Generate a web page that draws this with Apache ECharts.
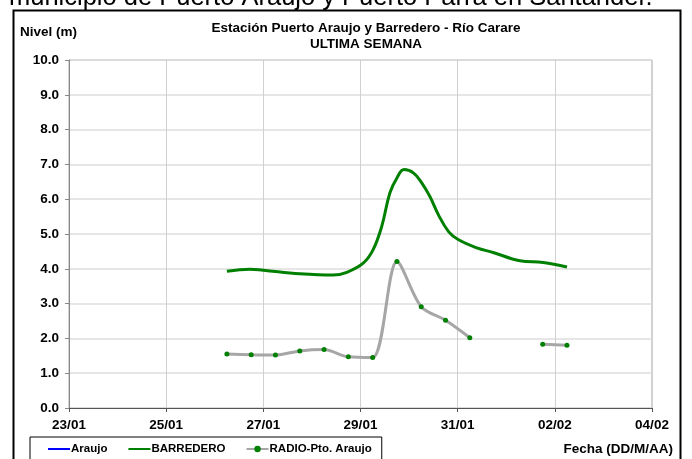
<!DOCTYPE html>
<html><head><meta charset="utf-8">
<script src="https://cdn.jsdelivr.net/npm/echarts@6/dist/echarts.min.js"></script>
<style>html,body{margin:0;padding:0;background:#fff}#c{width:692px;height:459px}</style>
</head><body><div id="c"></div>
<script>
var titleLine1 = 'Estación Puerto Araujo y Barredero - Río Carare';
var titleLine2 = 'ULTIMA SEMANA';
var yAxisName = 'Nivel (m)';
var xAxisName = 'Fecha (DD/M/AA)';
var pageText = 'municipio de Puerto Araujo y Puerto Parra en Santander.';
var seriesNames = ['Araujo', 'BARREDERO', 'RADIO-Pto. Araujo'];
var startDate = '2021-01-23';
var yTicks = [0, 1, 2, 3, 4, 5, 6, 7, 8, 9, 10];

var araujoTimes = [];
var araujoValues = [];

var barrederoTimes = ['01-26 06:00','01-26 17:30','01-27 00:00','01-27 18:00','01-28 10:30','01-28 17:15',
  '01-29 01:30','01-29 06:15','01-29 10:30','01-29 14:30','01-29 18:00','01-29 21:30','01-30 02:15',
  '01-30 06:15','01-30 10:15','01-30 14:30','01-30 19:30','01-31 00:15','01-31 09:30','01-31 17:30',
  '02-01 06:45','02-01 18:15','02-02 06:00'];
var barrederoValues = [3.93,3.99,3.96,3.86,3.82,3.90,4.17,4.55,5.22,6.18,6.61,6.85,6.75,6.47,6.08,5.55,5.07,4.84,4.60,4.47,4.23,4.18,4.05];

var radioTimes = ['01-26 06:00','01-26 18:00','01-27 06:00','01-27 18:00','01-28 06:00','01-28 18:00',
  '01-29 06:00','01-29 18:00','01-30 06:00','01-30 18:00','01-31 06:00','01-31 18:00','02-01 06:00',
  '02-01 18:00','02-02 06:00'];
var radioValues = [1.55,1.53,1.52,1.64,1.68,1.47,1.45,4.21,2.91,2.52,2.02,null,null,1.83,1.80];

var DAY = 86400000;
var base = Date.parse(startDate + 'T00:00:00');
function toDay(s) {
  var p = s.split(' ');
  return (Date.parse(startDate.slice(0, 4) + '-' + p[0] + 'T' + p[1] + ':00') - base) / DAY;
}
function pairs(times, vals) {
  return times.map(function (t, i) { return [toDay(t), vals[i] == null ? '-' : vals[i]]; });
}
function fmtDay(v) {
  var d = new Date(base + v * DAY);
  var dd = ('0' + d.getDate()).slice(-2), mm = ('0' + (d.getMonth() + 1)).slice(-2);
  return dd + '/' + mm;
}

var FONT = '"Liberation Sans", Arial, sans-serif';
var chart = echarts.init(document.getElementById('c'), null, {renderer: 'canvas'});
chart.setOption({
  animation: false,
  backgroundColor: '#fff',
  textStyle: {fontFamily: FONT},
  title: {
    text: titleLine1 + '\n' + titleLine2,
    left: 361, top: 15, textAlign: 'center',
    textStyle: {fontFamily: FONT, fontSize: 13.5, fontWeight: 'bold', color: '#000', lineHeight: 16}
  },
  grid: {left: 69, top: 60, right: 40, bottom: 51, show: true, borderColor: '#a6a6a6', borderWidth: 1},
  legend: {
    left: 30, top: 437, width: 350, height: 30,
    padding: [6, 10, 10, 17],
    borderColor: '#000', borderWidth: 1,
    itemWidth: 22, itemHeight: 8, itemGap: 20,
    data: [
      {name: seriesNames[0], itemStyle: {opacity: 0}},
      {name: seriesNames[1], itemStyle: {opacity: 0}},
      {name: seriesNames[2]}
    ],
    textStyle: {fontFamily: FONT, fontSize: 11.5, fontWeight: 'bold', color: '#000', padding: [0, 0, 0, -4]}
  },
  xAxis: {
    type: 'value', min: 0, max: 12, interval: 2,
    axisLine: {show: true, lineStyle: {color: '#555', width: 1}},
    axisTick: {show: true, length: 4, lineStyle: {color: '#555'}},
    axisLabel: {formatter: fmtDay, fontFamily: FONT, fontSize: 13.5, fontWeight: 'bold', color: '#000', margin: 10},
    splitLine: {show: true, lineStyle: {color: '#d0d0d0', width: 1}}
  },
  yAxis: {
    type: 'value', min: yTicks[0], max: yTicks[yTicks.length - 1], interval: 1,
    axisLine: {show: true, lineStyle: {color: '#888', width: 1}},
    axisTick: {show: true, length: 4, lineStyle: {color: '#888'}},
    axisLabel: {formatter: function (v) { return v.toFixed(1); }, fontFamily: FONT, fontSize: 13.5, fontWeight: 'bold', color: '#000', margin: 10},
    splitLine: {show: true, lineStyle: {color: '#dedede', width: 1.5}}
  },
  graphic: [
    {type: 'rect', shape: {x: 13.5, y: 10.5, width: 667, height: 470}, style: {fill: 'none', stroke: '#000', lineWidth: 2}, silent: true},
    {type: 'text', left: 9, top: -15, style: {text: pageText, font: '25.5px "Liberation Sans", Arial, sans-serif', fill: '#000'}},
    {type: 'text', left: 20, top: 25, style: {text: yAxisName, font: 'bold 13.5px ' + FONT, fill: '#000'}},
    {type: 'text', right: 19, top: 442, style: {text: xAxisName, font: 'bold 13.5px ' + FONT, fill: '#000'}}
  ],
  series: [
    {name: seriesNames[0], type: 'line', data: pairs(araujoTimes, araujoValues), color: '#0000ff', symbol: 'none', lineStyle: {width: 3}},
    {name: seriesNames[1], type: 'line', data: pairs(barrederoTimes, barrederoValues), color: '#008000', smooth: 0.4, symbol: 'none', lineStyle: {width: 3, color: '#008000'}},
    {name: seriesNames[2], type: 'line', data: pairs(radioTimes, radioValues), smooth: 0.3, connectNulls: false,
      symbol: 'circle', symbolSize: 5, itemStyle: {color: '#008000'}, lineStyle: {width: 3, color: '#a6a6a6'}}
  ]
});
</script></body></html>
